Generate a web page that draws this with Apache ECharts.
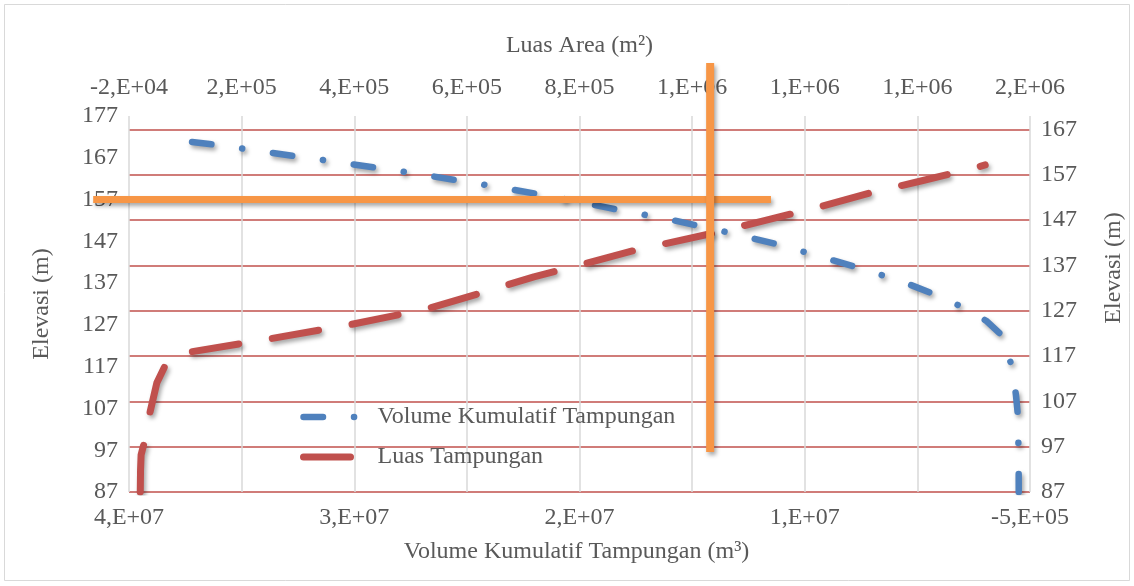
<!DOCTYPE html>
<html>
<head>
<meta charset="utf-8">
<script src="https://cdn.jsdelivr.net/npm/echarts@6/dist/echarts.min.js"></script>
<style>
  html, body { margin: 0; padding: 0; background: #ffffff; }
  #chart { width: 1134px; height: 586px; }
</style>
</head>
<body>
<div id="chart"></div>
<script>
// ---- Data ----
// Volume Kumulatif Tampungan (m³) vs Elevasi (m) — listed from the top of the reservoir down
const volElev  = [170.8, 170, 167, 164, 161, 158, 155, 152, 149, 146, 143, 140, 137, 134, 131, 128, 125, 122, 118, 114, 110, 106, 102, 97, 92, 87];
const volValue = [36.7e6, 35.5e6, 31.6e6, 27.7e6, 24.2e6, 21.0e6, 18.2e6, 15.3e6, 12.8e6, 10.5e6, 8.6e6, 6.7e6, 5.0e6, 3.6e6, 2.4e6, 1.45e6, 0.85e6, 0.6e6, 0.36e6, 0.22e6, 0.12e6, 0.05e6, 0.025e6, 0.01e6, 0.003e6, 0];

// Luas Tampungan (m²) vs Elevasi (m) — listed from the bottom up
const areaElev  = [87, 91.9, 95.2, 98.5, 104.5, 111.1, 115.7, 117, 117.9, 120.8, 123.9, 127.4, 130.9, 134.5, 137.1, 140.4, 144.2, 146.8, 149.9, 153, 155.7, 158.5, 159.2];
const areaValue = [0, 500, 1500, 8300, 17100, 29500, 47200, 62000, 87800, 229300, 370700, 508600, 604100, 699000, 780900, 879900, 1019600, 1104800, 1205200, 1295400, 1388000, 1481000, 1500500];

// Orange guide lines (top area axis / left elevation axis)
const guideHElev = 157;                 // horizontal guide elevation
const guideHArea = [-83600, 1120000];   // its extent in area units
const guideVArea = 1012000;             // vertical guide area
const guideVElev = [189.7, 96.6];       // its extent in elevation units

// Axis ranges and tick steps
const volAxis   = { min: -5e5, max: 3.95e7, interval: 1e7 };
const areaAxis  = { min: -2e4, max: 1.58e6, interval: 2e5 };
const elevLeft  = { min: 87, max: 177, interval: 10 };
const elevRight = { min: 87, max: 170, interval: 10 };

const names = {
  vol: 'Volume Kumulatif Tampungan',
  area: 'Luas Tampungan',
  xBottom: 'Volume Kumulatif Tampungan (m³)',
  xTop: 'Luas Area (m²)',
  y: 'Elevasi (m)'
};

// ---- Helpers ----
function sci(v) {
  if (v === 0) return '0,E+00';
  const s = v < 0 ? '-' : '';
  const a = Math.abs(v);
  let e = Math.floor(Math.log10(a));
  let m = Math.round(a / Math.pow(10, e));
  if (m >= 10) { m = 1; e += 1; }
  return s + m + ',E' + (e < 0 ? '-' : '+') + String(Math.abs(e)).padStart(2, '0');
}
const zip = (xs, ys) => xs.map((x, i) => [x, ys[i]]);

const FONT = 'Liberation Serif';
const TXT = '#595959';
const BLUE = '#4f81bd', RED = '#c0504d', ORANGE = '#f79646';
const shadow = { shadowColor: 'rgba(0,0,0,0.35)', shadowBlur: 4, shadowOffsetX: 2, shadowOffsetY: 3 };
const blueLine = { color: BLUE, width: 6.5, type: [19.5, 31, 0.1, 31], cap: 'round', join: 'round' };
const redLine  = { color: RED, width: 7, type: [47, 34], cap: 'round', join: 'round' };

const guides = [
  [guideHArea[0], guideHElev, guideHArea[1], guideHElev],
  [guideVArea, guideVElev[0], guideVArea, guideVElev[1]]
];

const chart = echarts.init(document.getElementById('chart'), null, { renderer: 'canvas' });
chart.setOption({
  animation: false,
  backgroundColor: '#ffffff',
  textStyle: { fontFamily: FONT, color: TXT },
  grid: { left: 129, right: 100, top: 116, bottom: 94, containLabel: false },
  graphic: [{
    type: 'rect', silent: true,
    shape: { x: 4.5, y: 4.5, width: 1125, height: 576 },
    style: { fill: 'none', stroke: '#d9d9d9', lineWidth: 1 }
  }],
  legend: {
    orient: 'vertical',
    left: 295, top: 400,
    itemWidth: 55, itemHeight: 14, itemGap: 16,
    itemStyle: { opacity: 0 },
    data: [
      { name: names.vol, lineStyle: Object.assign({}, blueLine) },
      { name: names.area, lineStyle: Object.assign({}, redLine) }
    ],
    textStyle: { fontFamily: FONT, fontSize: 24, color: TXT, padding: [0, 0, 0, 14] }
  },
  xAxis: [
    {
      type: 'value', position: 'bottom', inverse: true,
      min: volAxis.min, max: volAxis.max, interval: volAxis.interval,
      name: names.xBottom, nameLocation: 'middle', nameGap: 48,
      nameTextStyle: { fontFamily: FONT, fontSize: 24, color: TXT, padding: [0, 6, 0, 0] },
      axisLine: { show: false }, axisTick: { show: false }, splitLine: { show: false },
      axisLabel: { formatter: sci, fontFamily: FONT, fontSize: 24, color: TXT, margin: 14 }
    },
    {
      type: 'value', position: 'top',
      min: areaAxis.min, max: areaAxis.max, interval: areaAxis.interval,
      name: names.xTop, nameLocation: 'middle', nameGap: 58,
      nameTextStyle: { fontFamily: FONT, fontSize: 24, color: TXT },
      axisLine: { show: false }, axisTick: { show: false },
      splitLine: { show: true, lineStyle: { color: '#d9d9d9', width: 1.5 } },
      axisLabel: { formatter: sci, fontFamily: FONT, fontSize: 24, color: TXT, margin: 16 }
    }
  ],
  yAxis: [
    {
      type: 'value', position: 'left',
      min: elevLeft.min, max: elevLeft.max, interval: elevLeft.interval,
      name: names.y, nameLocation: 'middle', nameGap: 75,
      nameTextStyle: { fontFamily: FONT, fontSize: 24, color: TXT },
      axisLine: { show: false }, axisTick: { show: false }, splitLine: { show: false },
      axisLabel: { fontFamily: FONT, fontSize: 24, color: TXT, margin: 11 }
    },
    {
      type: 'value', position: 'right',
      min: elevRight.min, max: elevRight.max, interval: elevRight.interval,
      name: names.y, nameLocation: 'middle', nameGap: 72,
      nameTextStyle: { fontFamily: FONT, fontSize: 24, color: TXT, padding: [0, 0, 0, 72] },
      axisLine: { show: false }, axisTick: { show: false },
      splitLine: { show: true, showMaxLine: false, lineStyle: { color: RED, width: 1.5 } },
      axisLabel: { fontFamily: FONT, fontSize: 24, color: TXT, margin: 11, showMaxLabel: false }
    }
  ],
  series: [
    {
      name: names.vol, type: 'line', xAxisIndex: 0, yAxisIndex: 0,
      data: zip(volValue, volElev),
      symbol: 'none', showSymbol: false, smooth: false,
      lineStyle: Object.assign({}, blueLine, shadow),
      itemStyle: { color: BLUE },
      z: 3
    },
    {
      name: names.area, type: 'line', xAxisIndex: 1, yAxisIndex: 1,
      data: zip(areaValue, areaElev),
      symbol: 'none', showSymbol: false, smooth: false,
      lineStyle: Object.assign({}, redLine, shadow),
      itemStyle: { color: RED },
      z: 3
    },
    {
      name: 'guides', type: 'custom', xAxisIndex: 1, yAxisIndex: 0, clip: false,
      silent: true, z: 10,
      data: guides,
      encode: { x: [0, 2], y: [1, 3] },
      renderItem: function (params, api) {
        const p1 = api.coord([api.value(0), api.value(1)]);
        const p2 = api.coord([api.value(2), api.value(3)]);
        return {
          type: 'line',
          shape: { x1: p1[0], y1: p1[1], x2: p2[0], y2: p2[1] },
          style: Object.assign({ stroke: ORANGE, lineWidth: params.dataIndex === 0 ? 7 : 8, lineCap: 'butt', fill: null }, shadow)
        };
      }
    }
  ]
});
</script>
</body>
</html>
